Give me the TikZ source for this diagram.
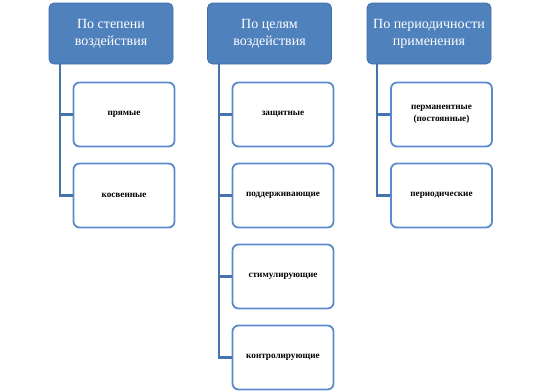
\documentclass[tikz,border=0pt]{standalone}
\usepackage{fontspec}
\setmainfont{Liberation Serif}
\definecolor{hdrfill}{HTML}{4F81BD}
\definecolor{hdrdraw}{HTML}{3F6EA8}
\definecolor{boxdraw}{HTML}{5A8ACB}
\definecolor{linedark}{HTML}{4673AE}
\begin{document}
\begin{tikzpicture}[x=1pt,y=1pt,
  hdr/.style={draw=hdrdraw,line width=0.8pt,fill=hdrfill,rounded corners=5pt,
    minimum width=124pt,minimum height=61pt,inner sep=2pt,text=white,
    align=center,font=\fontsize{14}{17}\selectfont},
  child/.style={draw=boxdraw,line width=1.8pt,fill=white,rounded corners=6pt,
    minimum width=101pt,minimum height=64pt,inner sep=2pt,align=center,
    font=\fontsize{9.2}{12}\selectfont\bfseries},
  conn/.style={draw=linedark,line width=2.2pt}]
\useasboundingbox (0,0) rectangle (540,-391);
% headers
\node[hdr] (h1) at (111,-33.5) {По степени\\воздействия};
\node[hdr] (h2) at (269.5,-33.5) {По целям\\воздействия};
\node[hdr] (h3) at (429,-33.5) {По периодичности\\применения};
% connector rails
\coordinate (v1) at (60,0);
\coordinate (v2) at (219,0);
\coordinate (v3) at (377,0);
% children
\node[child] (a1) at (124,-114.5) {прямые};
\node[child] (a2) at (124,-195.5) {косвенные};
\node[child] (b1) at (283,-114.5) {защитные};
\node[child] (b2) at (283,-195.5) {поддерживающие};
\node[child] (b3) at (283,-276.5) {стимулирующие};
\node[child] (b4) at (283,-357.5) {контролирующие};
\node[child] (c1) at (441.5,-114.5) {перманентные\\(постоянные)};
\node[child] (c2) at (441.5,-195.5) {периодические};
% connectors
\draw[conn] (v1 |- h1.south) |- (a2.west);
\draw[conn] (v1 |- a1.west) -- (a1.west);
\draw[conn] (v2 |- h2.south) |- (b4.west);
\draw[conn] (v2 |- b1.west) -- (b1.west);
\draw[conn] (v2 |- b2.west) -- (b2.west);
\draw[conn] (v2 |- b3.west) -- (b3.west);
\draw[conn] (v3 |- h3.south) |- (c2.west);
\draw[conn] (v3 |- c1.west) -- (c1.west);
\end{tikzpicture}
\end{document}
